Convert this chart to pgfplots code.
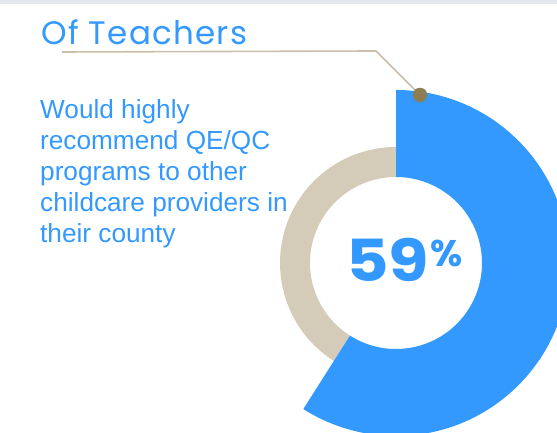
\documentclass[border=0pt]{standalone}
\usepackage{fontspec}
\usepackage{graphicx}
\usepackage{pgfplots}
\usepackage{pgfplotstable}
\pgfplotsset{compat=1.18}
\setmainfont{Liberation Sans}
\newfontfamily\pop{Poppins}
\newfontfamily\popwide[LetterSpace=4]{Poppins}

\definecolor{qblue}{HTML}{3399FF}
\definecolor{qbeige}{HTML}{D4CCB9}
\definecolor{qline}{HTML}{C9BFAA}
\definecolor{qdot}{HTML}{8C7D55}
\definecolor{qband}{HTML}{E4E9EF}

% share of teachers, rest
\pgfplotstableread{
part value
yes  59
rest 41
}\sharetable

\begin{document}
\begin{tikzpicture}
\pgfplotstablegetelem{0}{value}\of\sharetable
\pgfmathsetmacro\splitangle{90-3.6*\pgfplotsretval}
\begin{axis}[
    at={(0,0)}, anchor=south west,
    width=557pt, height=433pt, scale only axis,
    xmin=0, xmax=557, ymin=0, ymax=433,
    hide axis, clip=true,
]
    \coordinate (ll) at (axis cs:0,0);
    \coordinate (ur) at (axis cs:557,433);
    % top band
    \fill[qband] (axis cs:0,429) rectangle (axis cs:557,433);
    % donut: value part (outer ring) and remainder (thin ring)
    \fill[qbeige, shift={(axis cs:396,170)}]
        (\splitangle:116pt) arc[start angle=\splitangle, end angle=-270, radius=116pt]
        -- (-270:86pt) arc[start angle=-270, end angle=\splitangle, radius=86pt] -- cycle;
    \fill[qblue, shift={(axis cs:396,170)}]
        (90:173pt) arc[start angle=90, end angle=\splitangle, radius=173pt]
        -- (\splitangle:86pt) arc[start angle=\splitangle, end angle=90, radius=86pt] -- cycle;
    % leader line and dot
    \addplot[qline, line width=1.6pt] coordinates {(62,381) (376,382) (420,338)};
    \addplot[only marks, mark=*, mark size=7pt, color=qdot] coordinates {(420,338)};
    % texts
    \node[anchor=base west, inner sep=0pt, text=qblue,
          font=\popwide\fontsize{32.5}{32.5}\selectfont] at (axis cs:41,388) {Of Teachers};
    \node[anchor=base west, inner sep=0pt, text=qblue, align=left,
          font=\fontsize{26.2}{31}\selectfont] at (axis cs:40,190)
          {Would highly\\recommend QE/QC\\programs to other\\childcare providers in\\their county};
    \node[anchor=base west, inner sep=0pt, text=qblue,
          font=\pop\bfseries] at (axis cs:346,151)
          {\fontsize{58}{58}\selectfont\scalebox{1.13}[1]{59}\hspace{1pt}\fontsize{37}{37}\selectfont\raisebox{15pt}{\%}};
\end{axis}
\pgfresetboundingbox
\path[use as bounding box] (ll) rectangle (ur);
\end{tikzpicture}
\end{document}
